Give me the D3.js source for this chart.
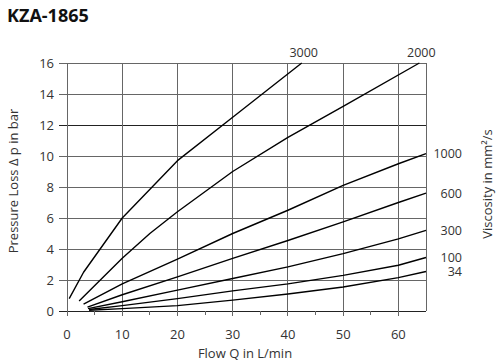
<!DOCTYPE html>
<html>
<head>
<meta charset="utf-8">
<script src="https://cdn.jsdelivr.net/npm/d3@7"></script>
<style>
  body { margin: 0; background: #fff; }
  text { font-family: "Open Sans", sans-serif; }
</style>
</head>
<body>
<div id="chart"></div>
<script>
// data: [flow Q in L/min, pressure loss in bar]
var viscosities = ["3000", "2000", "1000", "600", "300", "100", "34"];
var curve3000 = [[0.4,0.8],[3,2.5],[10,6],[20,9.7],[30,12.5],[42.5,16]];
var curve2000 = [[2.2,0.65],[10,3.4],[15,5],[20,6.4],[30,9],[40,11.2],[50,13.2],[63.8,16]];
var curve1000 = [[3,0.45],[10,1.75],[20,3.35],[30,5],[40,6.5],[50,8.1],[60,9.5],[65,10.15]];
var curve600 = [[3.7,0.25],[10,1.05],[20,2.2],[30,3.4],[40,4.55],[50,5.75],[60,7],[65,7.6]];
var curve300 = [[3.8,0.15],[10,0.6],[20,1.35],[30,2.1],[40,2.85],[50,3.7],[60,4.65],[65,5.2]];
var curve100 = [[4,0.1],[10,0.35],[20,0.8],[30,1.3],[40,1.75],[50,2.3],[60,2.95],[65,3.45]];
var curve34 = [[4,0.05],[10,0.15],[20,0.35],[30,0.7],[40,1.1],[50,1.55],[60,2.15],[65,2.55]];
var xTicks = [0, 10, 20, 30, 40, 50, 60];
var xMinorTicks = [5, 15, 25, 35, 45, 55];
var yTicks = [0, 2, 4, 6, 8, 10, 12, 14, 16];

var curves = [curve3000, curve2000, curve1000, curve600, curve300, curve100, curve34];

var width = 500, height = 363;
var margin = { top: 63, right: 74, bottom: 52, left: 67 };

var svg = d3.select("#chart").append("svg")
    .attr("width", width)
    .attr("height", height);

var x = d3.scaleLinear().domain([0, 65]).range([margin.left, width - margin.right]);
var y = d3.scaleLinear().domain([0, 16]).range([height - margin.bottom, margin.top]);

// title
svg.append("text")
    .attr("x", 7)
    .attr("y", 22)
    .attr("font-size", 18)
    .attr("font-weight", "bold")
    .attr("fill", "#111")
    .text("KZA-1865");

// grid
var grid = svg.append("g").attr("shape-rendering", "crispEdges");
grid.selectAll(".hline")
    .data(yTicks)
    .enter().append("line")
    .attr("x1", x(0) - 8)
    .attr("x2", x(65))
    .attr("y1", function (d) { return y(d); })
    .attr("y2", function (d) { return y(d); })
    .attr("stroke", function (d) { return d === 12 || d === 0 ? "#222" : "#666"; })
    .attr("stroke-width", 1);
grid.selectAll(".vline")
    .data(xTicks.concat([65]))
    .enter().append("line")
    .attr("x1", function (d) { return x(d); })
    .attr("x2", function (d) { return x(d); })
    .attr("y1", y(16))
    .attr("y2", function (d) { return d === 65 ? y(0) : y(0) + 5; })
    .attr("stroke", "#666")
    .attr("stroke-width", 1);
grid.selectAll(".minor")
    .data(xMinorTicks)
    .enter().append("line")
    .attr("x1", function (d) { return x(d); })
    .attr("x2", function (d) { return x(d); })
    .attr("y1", y(0))
    .attr("y2", y(0) + 4)
    .attr("stroke", "#666");

// tick labels
svg.selectAll(".ylab")
    .data(yTicks)
    .enter().append("text")
    .attr("x", 54)
    .attr("y", function (d) { return y(d); })
    .attr("dy", "0.35em")
    .attr("text-anchor", "end")
    .attr("font-size", 13)
    .attr("fill", "#333")
    .text(function (d) { return d; });
svg.selectAll(".xlab")
    .data(xTicks)
    .enter().append("text")
    .attr("x", function (d) { return x(d); })
    .attr("y", 334)
    .attr("dy", "0.35em")
    .attr("text-anchor", "middle")
    .attr("font-size", 13)
    .attr("fill", "#333")
    .text(function (d) { return d; });

// axis titles
svg.append("text")
    .attr("x", 245)
    .attr("y", 353)
    .attr("dy", "0.35em")
    .attr("text-anchor", "middle")
    .attr("font-size", 13)
    .attr("fill", "#333")
    .text("Flow Q in L/min");
svg.append("text")
    .attr("transform", "translate(13,181) rotate(-90)")
    .attr("dy", "0.35em")
    .attr("text-anchor", "middle")
    .attr("font-size", 13)
    .attr("fill", "#333")
    .text("Pressure Loss \u0394 p in bar");
svg.append("text")
    .attr("transform", "translate(487,184) rotate(-90)")
    .attr("dy", "0.35em")
    .attr("text-anchor", "middle")
    .attr("font-size", 13)
    .attr("fill", "#333")
    .text("Viscosity in mm\u00b2/s");

// curves
var line = d3.line()
    .x(function (d) { return x(d[0]); })
    .y(function (d) { return y(d[1]); });
svg.append("g").selectAll("path")
    .data(curves)
    .enter().append("path")
    .attr("d", line)
    .attr("fill", "none")
    .attr("stroke", "#000")
    .attr("stroke-width", 1.4)
    .attr("stroke-linejoin", "round");

// viscosity labels
svg.append("g").selectAll("text")
    .data(curves)
    .enter().append("text")
    .attr("font-size", 12.5)
    .attr("fill", "#333")
    .attr("text-anchor", function (d) { return d[d.length - 1][1] >= 16 ? "middle" : "end"; })
    .attr("x", function (d) {
        var last = d[d.length - 1];
        return last[1] >= 16 ? x(last[0]) + 2 : 462;
    })
    .attr("y", function (d) {
        var last = d[d.length - 1];
        return last[1] >= 16 ? y(16) - 6 : y(last[1]);
    })
    .attr("dy", function (d) { return d[d.length - 1][1] >= 16 ? 0 : "0.35em"; })
    .text(function (d, i) { return viscosities[i]; });
</script>
</body>
</html>
